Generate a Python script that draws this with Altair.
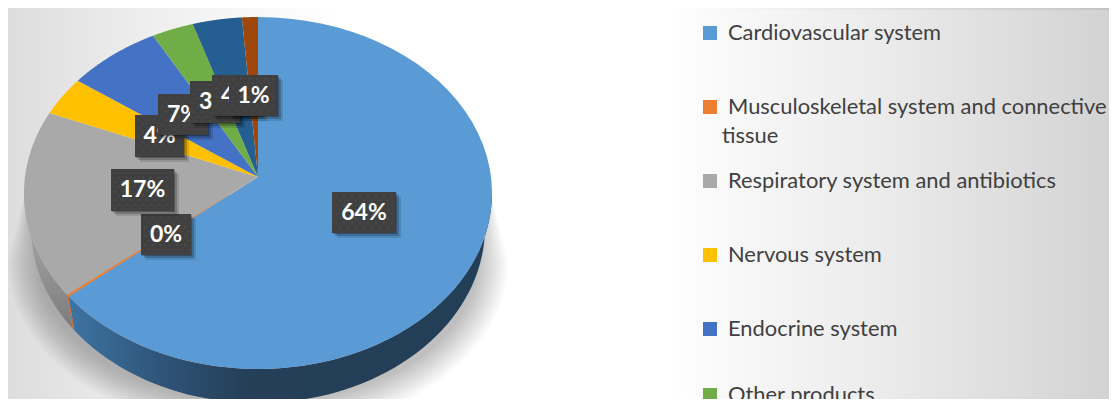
import math
import altair as alt

# ---- values ----
series = ["Cardiovascular system", "Musculoskeletal system and connective tissue",
          "Respiratory system and antibiotics", "Nervous system", "Endocrine system",
          "Other products", "Other group", "Last group"]
shares = [65.0, 0.2, 17.3, 3.5, 6.6, 2.9, 3.4, 1.1]
colors = ["#5b9bd5", "#ed7d31", "#a9a9a9", "#ffc000", "#4472c4", "#70ad47", "#255e91", "#9e480e"]
label_texts = ["64%", "0%", "17%", "4%", "7%", "3%", "4%", "1%"]
# label boxes: left, right, top, bottom
box_left = [332, 141, 111, 135, 158, 190, 212, 229]
box_right = [396, 191, 174, 184, 208, 240, 262, 278]
box_top = [192, 214, 169, 115, 94, 81, 75, 75]
box_bottom = [233, 255, 211, 157, 135, 123, 116, 116]

legend_names = ["Cardiovascular system", "Musculoskeletal system and connective",
                "Respiratory system and antibiotics", "Nervous system",
                "Endocrine system", "Other products"]
legend_colors = colors[:6]
legend_y = [33, 107, 181, 255, 329, 395]

OFF = 8
W, H = 1117, 407
CX, CY, RX, RY = 258, 193, 234, 176
APEX_Y = 177
BX, BY, BRX, BRY = 258, 227, 227, 176
proj = alt.Projection(type="identity", scale=1, translate=[-OFF, -OFF])


def top_pt(t):
    r = math.radians(t)
    return [CX + RX * math.sin(r), CY - RY * math.cos(r)]


def bot_pt(t):
    r = math.radians(t)
    return [BX + BRX * math.sin(r), BY - BRY * math.cos(r)]


def frange(a, b, n=60):
    return [a + (b - a) * i / n for i in range(n + 1)]


def feature(ring, name=""):
    return {"type": "Feature", "properties": {"name": name},
            "geometry": {"type": "Polygon", "coordinates": [ring + [ring[0]]]}}


def geo(features, **kw):
    return alt.Chart(alt.Data(values=features)).mark_geoshape(strokeWidth=0, **kw).project(**proj.to_dict())


def rect(x0, x1, y0, y1, **kw):
    return alt.Chart(alt.Data(values=[{"a": x0 - OFF, "b": x1 - OFF, "c": y0 - OFF, "d": y1 - OFF}])).mark_rect(**kw).encode(
        x=alt.X("a:Q", scale=None, axis=None), x2="b:Q",
        y=alt.Y("c:Q", scale=None, axis=None), y2="d:Q")


def hgrad(stops):
    return alt.Gradient(gradient="linear", x1=0, x2=1, y1=0, y2=0,
                        stops=[alt.GradientStop(offset=o, color=c) for o, c in stops])


def vgrad(stops):
    return alt.Gradient(gradient="linear", x1=0, x2=0, y1=0, y2=1,
                        stops=[alt.GradientStop(offset=o, color=c) for o, c in stops])


layers = []
# slide background and legend panel
layers.append(rect(0, W, 0, H, fill=hgrad([(0, "#dcdcdc"), (0.13, "#eeeeee"), (0.3, "#ffffff"),
                                           (0.6, "#ffffff"), (1, "#c2c2c2")])))
layers.append(rect(690, W, 10, H, fill=hgrad([(0, "#fcfcfc"), (0.5, "#e9e9e9"), (1, "#d2d2d2")])))

# soft shadow under the pie
for k in range(0, 32, 2):
    rx, ry, cy = 250 - k, 172 - k, 262
    ring = [[492 - k * 0.3, 195]]
    ring += [[258 + rx * math.cos(math.radians(a)), cy + ry * math.sin(math.radians(a))] for a in frange(0, 180, 70)]
    ring += [[24 + k * 0.3, 195]]
    layers.append(geo([feature(ring)], fill="#000000", opacity=0.016))

# slice boundaries, clockwise from the top
total = sum(shares)
cum = [0]
for s in shares:
    cum.append(cum[-1] + s)
angles = [c / total * 360 for c in cum]

# side wall: blue, orange, gray
def wall(a, b):
    ts = frange(a, b)
    return [top_pt(t) for t in ts] + [bot_pt(t) for t in reversed(ts)]


layers.append(geo([feature(wall(90, angles[1]))],
                  fill=hgrad([(0, "#3d74a3"), (0.22, "#2f5478"), (0.42, "#243f57"), (1, "#233f57")])))
layers.append(geo([feature(wall(angles[1], angles[2]))], fill="#c46a2a"))
layers.append(geo([feature(wall(angles[2], 272))],
                  fill=vgrad([(0, "#b0b0b0"), (0.5, "#999999"), (1, "#7b7b7b")])))

# top face
sectors = []
for name, a, b in zip(series, angles[:-1], angles[1:]):
    sectors.append(feature([[CX, APEX_Y]] + [top_pt(t) for t in frange(a, b)], name))
layers.append(
    alt.Chart(alt.Data(values=sectors)).mark_geoshape(strokeWidth=0).encode(
        color=alt.Color("properties.name:N", legend=None,
                        scale=alt.Scale(domain=series, range=colors))
    ).project(**proj.to_dict())
)

# data labels, in stacking order
for txt, l, r, t, b in zip(label_texts, box_left, box_right, box_top, box_bottom):
    for d, op in ((5, 0.12), (3, 0.2), (1, 0.25)):
        layers.append(rect(l + d, r + d, t + d, b + d, fill="#000000", opacity=op))
    layers.append(rect(l, r, t, b, fill="#404040"))
    dots = []
    row = 0
    y = t + 4
    while y < b - 1:
        x = l + 4 + (4 if row % 2 else 0)
        while x < r - 1:
            dots.append({"a": x - OFF, "c": y - OFF})
            x += 8
        y += 4.5
        row += 1
    layers.append(alt.Chart(alt.Data(values=dots)).mark_circle(size=3, color="#5c5c5c", opacity=0.6).encode(
        x=alt.X("a:Q", scale=None, axis=None), y=alt.Y("c:Q", scale=None, axis=None)))
    layers.append(alt.Chart(alt.Data(values=[{"a": (l + r) / 2 - OFF, "c": (t + b) / 2 - OFF, "s": txt}])).mark_text(
        font="Lato", fontWeight="bold", fontSize=23, color="#ffffff", baseline="middle", align="center"
    ).encode(x=alt.X("a:Q", scale=None, axis=None), y=alt.Y("c:Q", scale=None, axis=None), text="s:N"))

# legend
legend_rows = [{"a": 728 - OFF, "c": y - OFF, "s": n} for n, y in zip(legend_names, legend_y)]
legend_rows.append({"a": 722 - OFF, "c": 136 - OFF, "s": "tissue"})
layers.append(alt.Chart(alt.Data(values=legend_rows)).mark_text(
    font="Lato", fontSize=21.9, color="#404040", baseline="middle", align="left"
).encode(x=alt.X("a:Q", scale=None, axis=None), y=alt.Y("c:Q", scale=None, axis=None), text="s:N"))
square_rows = [{"a": 710 - OFF, "c": y - OFF, "k": n} for n, y in zip(legend_names, legend_y)]
layers.append(alt.Chart(alt.Data(values=square_rows)).mark_square(size=196, opacity=1).encode(
    x=alt.X("a:Q", scale=None, axis=None), y=alt.Y("c:Q", scale=None, axis=None),
    color=alt.Color("k:N", legend=None, scale=alt.Scale(domain=legend_names, range=legend_colors))))

chart = alt.layer(*layers).resolve_scale(color="independent").properties(
    width=W - 2 * OFF, height=H - 2 * OFF, padding=0,
    autosize=alt.AutoSizeParams(type="none")
).configure_view(stroke=None)

chart.save("out.html", embed_options={"renderer": "svg", "actions": False})
